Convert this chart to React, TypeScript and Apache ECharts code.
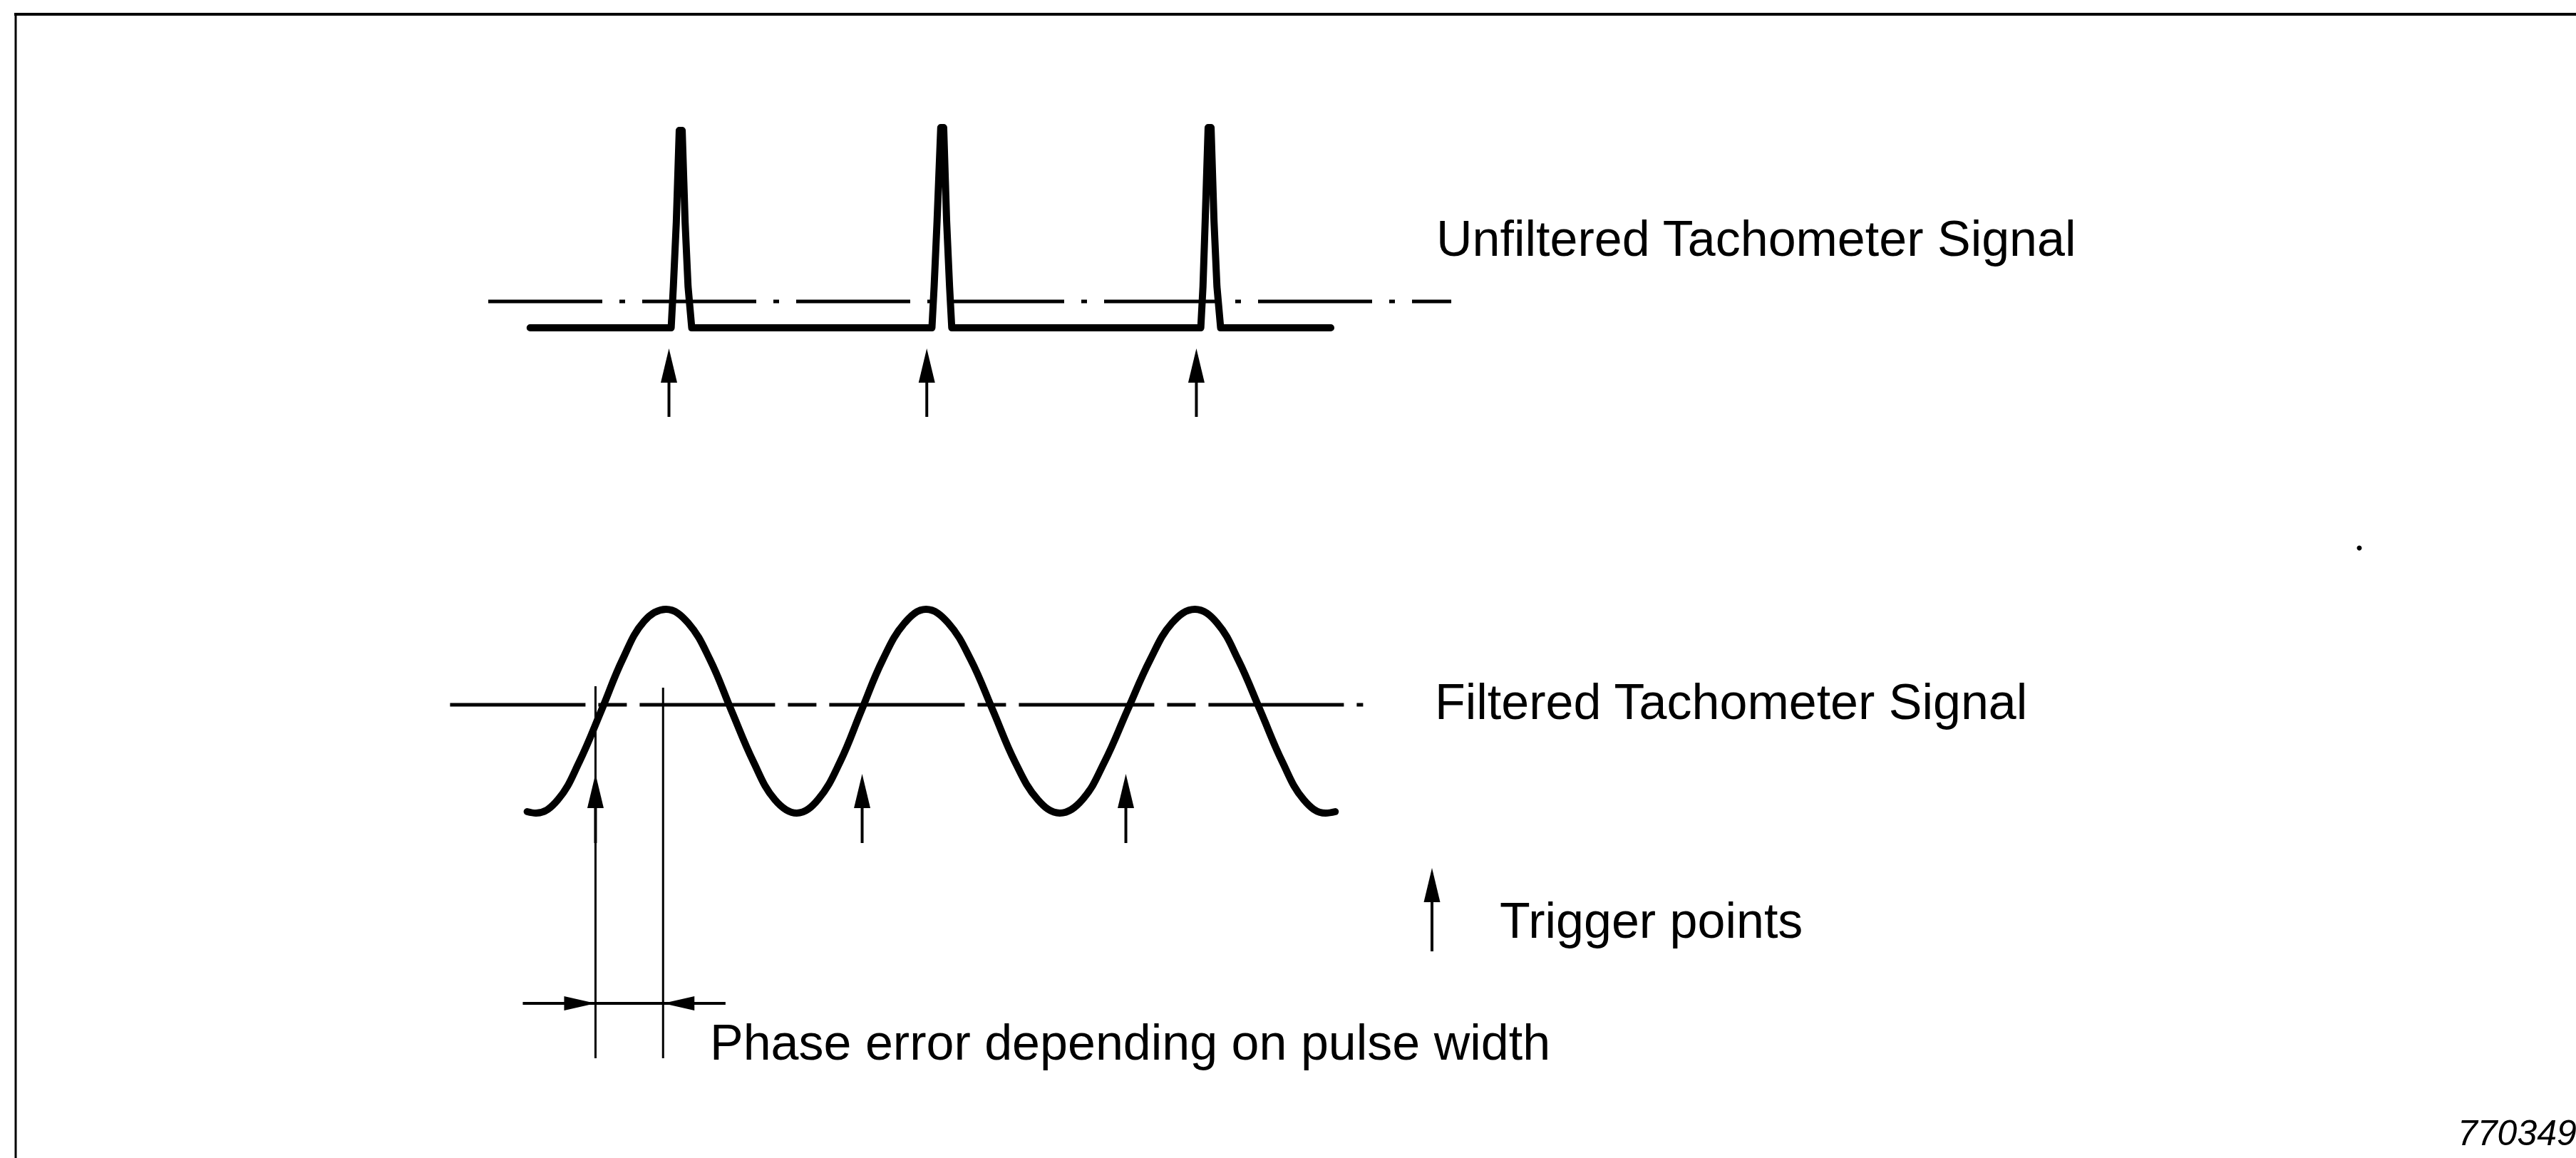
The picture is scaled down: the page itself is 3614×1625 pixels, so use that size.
import React, { useEffect, useRef } from "react";
import * as echarts from "echarts";

const W = 3614;
const H = 1625;

// ---- Data (x: phase in degrees, y: signal level in volts) ----
// Unfiltered tachometer signal (narrow pulses on a baseline)
const unfilteredX = [-205, -13, -10, -6, -2, 2, 6, 10, 15, 342, 345, 349, 354, 358, 362, 366, 369, 708, 711, 714, 718, 722, 726, 730, 735, 885];
const unfilteredY = [0, 0, 0.58, 1.48, 2.77, 2.77, 1.48, 0.58, 0, 0, 0.58, 1.5, 2.81, 2.81, 1.5, 0.58, 0, 0, 0.58, 1.5, 2.81, 2.81, 1.5, 0.58, 0, 0];
const upperThresholdX = [-262, 1049];
const upperThresholdLevel = 0.37;
const upperTriggerX = [-16, 335, 702];
const upperArrowTip = -0.29;
const upperArrowTail = -1.25;

// Filtered tachometer signal (sine-like)
const filteredX = [
  -209, -197, -167, -138, -108, -79, -50, -20,
  10, 40, 69, 99, 128, 158,
  187, 217, 246, 275, 305, 334,
  364, 395, 425, 455, 486, 516,
  547, 577, 608, 639, 669, 700,
  730, 759, 789, 819, 848, 878, 891,
];
const filteredY = [
  -1.42, -1.44, -1.25, -0.72, 0, 0.72, 1.25, 1.42,
  1.23, 0.71, 0, -0.72, -1.25, -1.44,
  -1.25, -0.72, 0, 0.71, 1.23, 1.42,
  1.23, 0.71, 0, -0.72, -1.25, -1.44,
  -1.25, -0.72, 0, 0.71, 1.23, 1.42,
  1.23, 0.71, 0, -0.72, -1.25, -1.44, -1.42,
];
const lowerThresholdX = [-314, 929];
const lowerThresholdLevel = 0.08;
const lowerTriggerX = [-116, 247, 606];
const lowerArrowTip = -0.89;
const lowerArrowTail = -1.86;

// Phase error reference lines and dimension
const refLineX = [-116, -24];
const refLineTop = [0.34, 0.32];
const refLineBottom = -4.88;
const phaseDimX = [-215, 61];
const phaseDimY = -4.11;

const labelUnfiltered = "Unfiltered Tachometer Signal";
const labelFiltered = "Filtered Tachometer Signal";
const labelTrigger = "Trigger points";
const labelPhase = "Phase error depending on pulse width";
const figureNo = "770349";

// ---- Layout constants ----
const XMIN = -330;
const XMAX = 1080;
const ORIGIN_PX = 955;
const PX_PER_DEG = 371 / 360;
const GRID_LEFT = ORIGIN_PX + PX_PER_DEG * XMIN;
const GRID_RIGHT = W - (ORIGIN_PX + PX_PER_DEG * XMAX);
const FONT = '"Liberation Sans", Arial, Helvetica, sans-serif';
const FS = 70;
const BLACK = "#000";

const HEAD_L = 48;
const HEAD_W = 23;

function upArrow(_params: any, api: any) {
  const tip = api.coord([api.value(0), api.value(1)]);
  const tail = api.coord([api.value(0), api.value(2)]);
  return {
    type: "group",
    children: [
      {
        type: "line",
        shape: { x1: tip[0], y1: tip[1] + HEAD_L * 0.7, x2: tail[0], y2: tail[1] },
        style: { stroke: BLACK, lineWidth: 4 },
      },
      {
        type: "polygon",
        shape: {
          points: [
            [tip[0], tip[1]],
            [tip[0] - HEAD_W / 2, tip[1] + HEAD_L],
            [tip[0] + HEAD_W / 2, tip[1] + HEAD_L],
          ],
        },
        style: { fill: BLACK },
      },
    ],
  };
}

function vLine(_params: any, api: any) {
  const a = api.coord([api.value(0), api.value(1)]);
  const b = api.coord([api.value(0), api.value(2)]);
  return {
    type: "line",
    shape: { x1: a[0], y1: a[1], x2: b[0], y2: b[1] },
    style: { stroke: BLACK, lineWidth: 3 },
  };
}

function dimension(_params: any, api: any) {
  const y = api.value(2);
  const a = api.coord([api.value(0), y]);
  const b = api.coord([api.value(1), y]);
  const tl = api.coord([api.value(3), y]);
  const tr = api.coord([api.value(4), y]);
  const L = 44;
  const w = 20;
  return {
    type: "group",
    children: [
      { type: "line", shape: { x1: a[0], y1: a[1], x2: b[0], y2: b[1] }, style: { stroke: BLACK, lineWidth: 4 } },
      {
        type: "polygon",
        shape: { points: [[tl[0], tl[1]], [tl[0] - L, tl[1] - w / 2], [tl[0] - L, tl[1] + w / 2]] },
        style: { fill: BLACK },
      },
      {
        type: "polygon",
        shape: { points: [[tr[0], tr[1]], [tr[0] + L, tr[1] - w / 2], [tr[0] + L, tr[1] + w / 2]] },
        style: { fill: BLACK },
      },
    ],
  };
}

function text(str: string, x: number, y: number, extra: any = {}) {
  return {
    type: "text",
    x,
    y,
    silent: true,
    style: {
      text: str,
      fill: BLACK,
      fontFamily: FONT,
      fontSize: FS,
      align: "left",
      verticalAlign: "middle",
      ...extra,
    },
  };
}

export default function App() {
  const ref = useRef<HTMLDivElement>(null);

  useEffect(() => {
    if (!ref.current) return;
    const chart = echarts.init(ref.current, undefined, { renderer: "svg" });

    const option: any = {
      animation: false,
      backgroundColor: "#fff",
      grid: [
        { left: GRID_LEFT, right: GRID_RIGHT, top: 110, height: 500 },
        { left: GRID_LEFT, right: GRID_RIGHT, top: 697, height: 850 },
      ],
      xAxis: [
        { type: "value", gridIndex: 0, min: XMIN, max: XMAX, show: false },
        { type: "value", gridIndex: 1, min: XMIN, max: XMAX, show: false },
      ],
      yAxis: [
        { type: "value", gridIndex: 0, min: -1.5, max: 3.5, show: false },
        { type: "value", gridIndex: 1, min: -5.5, max: 3, show: false },
      ],
      series: [
        {
          name: "Upper threshold",
          type: "line",
          xAxisIndex: 0,
          yAxisIndex: 0,
          silent: true,
          symbol: "none",
          data: upperThresholdX.map((x) => [x, upperThresholdLevel]),
          lineStyle: { color: BLACK, width: 5, type: [160, 24, 8, 24] },
        },
        {
          name: labelUnfiltered,
          type: "line",
          xAxisIndex: 0,
          yAxisIndex: 0,
          silent: true,
          symbol: "none",
          data: unfilteredX.map((x, i) => [x, unfilteredY[i]]),
          lineStyle: { color: BLACK, width: 10, join: "round", cap: "round" },
        },
        {
          name: "Upper triggers",
          type: "custom",
          xAxisIndex: 0,
          yAxisIndex: 0,
          silent: true,
          clip: false,
          encode: { x: 0, y: [1, 2] },
          data: upperTriggerX.map((x) => [x, upperArrowTip, upperArrowTail]),
          renderItem: upArrow,
        },
        {
          name: "Lower threshold",
          type: "line",
          xAxisIndex: 1,
          yAxisIndex: 1,
          silent: true,
          symbol: "none",
          data: lowerThresholdX.map((x) => [x, lowerThresholdLevel]),
          lineStyle: { color: BLACK, width: 5, type: [190, 18, 40, 18] },
        },
        {
          name: labelFiltered,
          type: "line",
          xAxisIndex: 1,
          yAxisIndex: 1,
          silent: true,
          symbol: "none",
          smooth: 0.4,
          data: filteredX.map((x, i) => [x, filteredY[i]]),
          lineStyle: { color: BLACK, width: 10, cap: "round", join: "round" },
        },
        {
          name: "Lower triggers",
          type: "custom",
          xAxisIndex: 1,
          yAxisIndex: 1,
          silent: true,
          clip: false,
          encode: { x: 0, y: [1, 2] },
          data: lowerTriggerX.map((x) => [x, lowerArrowTip, lowerArrowTail]),
          renderItem: upArrow,
        },
        {
          name: "Reference lines",
          type: "custom",
          xAxisIndex: 1,
          yAxisIndex: 1,
          silent: true,
          clip: false,
          encode: { x: 0, y: [1, 2] },
          data: refLineX.map((x, i) => [x, refLineTop[i], refLineBottom]),
          renderItem: vLine,
        },
        {
          name: "Phase error",
          type: "custom",
          xAxisIndex: 1,
          yAxisIndex: 1,
          silent: true,
          clip: false,
          encode: { x: [0, 1, 3, 4], y: 2 },
          data: [[phaseDimX[0], phaseDimX[1], phaseDimY, refLineX[0], refLineX[1]]],
          renderItem: dimension,
        },
      ],
      graphic: [
        { type: "line", silent: true, shape: { x1: 20, y1: 20, x2: W, y2: 20 }, style: { stroke: BLACK, lineWidth: 4 } },
        { type: "line", silent: true, shape: { x1: 22, y1: 18, x2: 22, y2: H }, style: { stroke: BLACK, lineWidth: 3 } },
        text(labelUnfiltered, 2015, 335),
        text(labelFiltered, 2013, 985),
        text(labelTrigger, 2104, 1292),
        text(labelPhase, 996, 1463),
        text(figureNo, 3448, 1590, { fontSize: 50, fontStyle: "italic" }),
        { type: "circle", silent: true, shape: { cx: 3310, cy: 769, r: 3.5 }, style: { fill: BLACK } },
        {
          type: "group",
          silent: true,
          children: [
            { type: "line", shape: { x1: 2009, y1: 1250, x2: 2009, y2: 1335 }, style: { stroke: BLACK, lineWidth: 4 } },
            {
              type: "polygon",
              shape: { points: [[2009, 1218], [2009 - HEAD_W / 2, 1218 + HEAD_L], [2009 + HEAD_W / 2, 1218 + HEAD_L]] },
              style: { fill: BLACK },
            },
          ],
        },
      ],
    };

    chart.setOption(option);
    return () => chart.dispose();
  }, []);

  return (
    <div
      ref={ref}
      style={{ position: "fixed", left: 0, top: 0, width: W + "px", height: H + "px", background: "#fff" }}
    />
  );
}
